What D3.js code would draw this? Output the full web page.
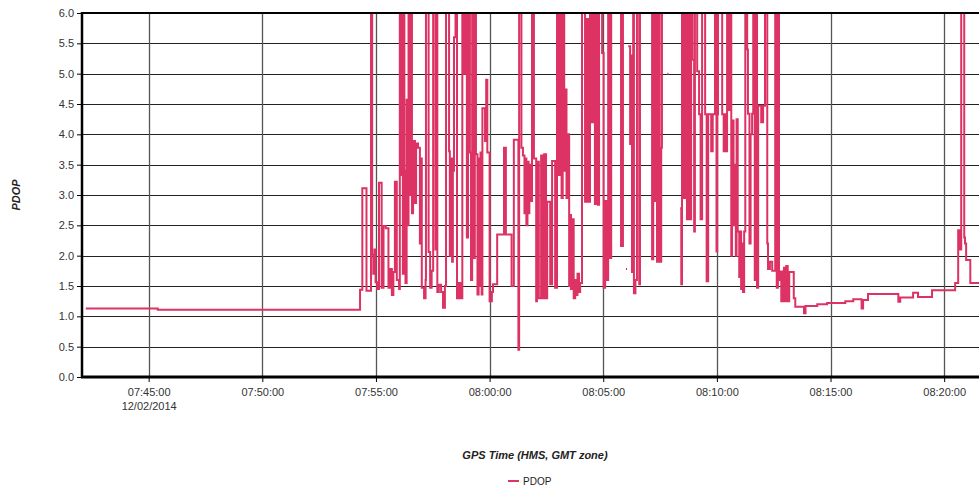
<!DOCTYPE html>
<html><head><meta charset="utf-8">
<script src="https://cdn.jsdelivr.net/npm/d3@7"></script>
<style>body{margin:0;background:#fff;} svg{display:block;font-family:Arial,"Liberation Sans",sans-serif;}</style>
</head><body><svg id="chart" width="979" height="488"></svg>
<script>
// ---- data (step series; values above 6 are clipped at the top of the plot) ----
const times = [
"07:42:14","07:45:24","07:54:18","07:54:24","07:54:35","07:54:47","07:54:50","07:54:53","07:54:56","07:54:59",
"07:55:03","07:55:08","07:55:15","07:55:20","07:55:26","07:55:33","07:55:37","07:55:42","07:55:46","07:55:50",
"07:55:55","07:56:01","07:56:03","07:56:07","07:56:09","07:56:11","07:56:13","07:56:15","07:56:18","07:56:21",
"07:56:23","07:56:26","07:56:30","07:56:31","07:56:35","07:56:38","07:56:43","07:56:46","07:56:51","07:56:56",
"07:56:59","07:57:01","07:57:07","07:57:11","07:57:12","07:57:19","07:57:23","07:57:27","07:57:31","07:57:37",
"07:57:38","07:57:42","07:57:46","07:57:52","07:57:57","07:58:02","07:58:05","07:58:13","07:58:15","07:58:18",
"07:58:21","07:58:23","07:58:26","07:58:30","07:58:34","07:58:39","07:58:44","07:58:48","07:58:52","07:58:55",
"07:59:00","07:59:03","07:59:08","07:59:11","07:59:14","07:59:19","07:59:21","07:59:24","07:59:28","07:59:31",
"07:59:33","07:59:36","07:59:39","07:59:41","07:59:48","07:59:51","07:59:54","08:00:00","08:00:06","08:00:09",
"08:00:20","08:00:38","08:00:43","08:00:58","08:01:04","08:01:16","08:01:18","08:01:24","08:01:28","08:01:32",
"08:01:35","08:01:37","08:01:40","08:01:43","08:01:45","08:01:49","08:01:52","08:01:57","08:02:03","08:02:05",
"08:02:10","08:02:16","08:02:21","08:02:24","08:02:29","08:02:32","08:02:40","08:02:45","08:02:53","08:02:58",
"08:03:03","08:03:06","08:03:10","08:03:13","08:03:17","08:03:19","08:03:23","08:03:26","08:03:30","08:03:32",
"08:03:35","08:03:38","08:03:42","08:03:46","08:03:48","08:03:52","08:03:56","08:03:59","08:04:04","08:04:12",
"08:04:16","08:04:20","08:04:25","08:04:29","08:04:33","08:04:38","08:04:41","08:04:46","08:04:49","08:04:57",
"08:05:01","08:05:05","08:05:09","08:05:13","08:05:18","08:05:21","08:05:47","08:05:52","08:05:59","08:06:00",
"08:06:03","08:06:04","08:06:06","08:06:11","08:06:12","08:06:16","08:06:19","08:06:21","08:06:25","08:06:29",
"08:06:35","08:06:37","08:07:09","08:07:12","08:07:16","08:07:18","08:07:22","08:07:25","08:07:29","08:07:33",
"08:07:35","08:07:47","08:07:49","08:07:52","08:07:53","08:08:23","08:08:26","08:08:28","08:08:33","08:08:36",
"08:08:41","08:08:44","08:08:49","08:08:52","08:08:56","08:09:00","08:09:02","08:09:08","08:09:13","08:09:17",
"08:09:21","08:09:29","08:09:33","08:09:37","08:09:45","08:09:49","08:09:55","08:09:59","08:10:01","08:10:03",
"08:10:14","08:10:18","08:10:22","08:10:26","08:10:27","08:10:32","08:10:35","08:10:38","08:10:40","08:10:44",
"08:10:47","08:10:50","08:10:52","08:10:55","08:10:59","08:11:01","08:11:04","08:11:07","08:11:09","08:11:12",
"08:11:15","08:11:20","08:11:22","08:11:26","08:11:29","08:11:33","08:11:36","08:11:40","08:11:42","08:11:46",
"08:11:49","08:11:57","08:12:02","08:12:07","08:12:13","08:12:15","08:12:20","08:12:26","08:12:34","08:12:38",
"08:12:41","08:12:44","08:12:47","08:12:50","08:12:52","08:12:55","08:12:57","08:13:00","08:13:03","08:13:07",
"08:13:11","08:13:23","08:13:27","08:13:50","08:13:54","08:14:25","08:14:51","08:15:39","08:16:00","08:16:22",
"08:16:26","08:16:39","08:17:59","08:18:04","08:18:38","08:18:51","08:19:28","08:20:29","08:20:37","08:20:41",
"08:20:45","08:20:53","08:20:55","08:20:58","08:21:09","08:21:59"
];
const pdop = [
1.13,1.11,1.44,3.11,1.42,9,2.02,1.7,2.1,1.56,
1.45,3.2,1.47,2.49,2.45,1.47,1.78,1.35,1.73,3.22,
1.6,1.45,9,3.33,9,1.7,9,3.4,1.55,4.57,
2.5,9,3.0,9,2.7,3.89,2.87,3.85,3.78,2.2,
3.6,1.47,1.3,1.6,9,2.06,1.47,1.75,9,2.1,
9,1.4,1.52,1.4,1.14,1.5,9,3.72,2.0,3.6,
1.9,3.4,5.6,9,1.3,1.55,1.3,9,5.0,9,
2.3,9,3.7,1.6,9,1.96,9,3.67,1.36,3.6,
1.5,3.7,1.36,4.43,3.89,4.9,3.7,1.25,1.4,1.53,
2.35,3.78,2.35,1.5,3.91,0.45,9,3.78,3.65,2.7,
3.6,2.5,3.55,2.7,3.5,2.9,9,3.6,1.25,3.55,
1.3,3.65,1.3,3.67,1.3,2.89,1.53,3.56,1.47,9,
3.33,9,2.95,9,3.4,4.74,2.95,4.0,1.5,2.67,
1.45,2.6,1.3,1.6,1.35,1.7,1.4,1.55,9,2.89,
5.9,2.89,9,4.2,9,2.85,9,2.84,9,5.34,
1.47,2.9,1.6,9,1.96,9,2.16,9,null,1.78,
1.78,null,5.45,3.84,5.3,1.73,9,1.38,1.6,9,
1.53,9,1.94,9,2.9,9,1.9,9,1.9,3.78,
9,null,5.0,5.0,null,2.78,1.53,9,2.95,9,
2.6,9,2.6,9,5.23,2.4,9,5.04,4.33,2.6,
9,4.33,1.58,4.33,3.72,4.33,9,2.07,4.33,9,
4.33,3.72,4.33,3.72,9,4.4,9,2.0,4.23,2.5,
3.5,2.0,4.25,2.4,1.65,2.4,1.45,2.2,1.4,2.4,
9,5.4,4.34,2.2,4.0,4.34,9,1.6,9,1.47,
4.47,4.2,4.47,9,2.2,1.78,1.9,1.75,9,1.47,
9,1.6,1.74,1.25,1.74,1.25,1.8,1.25,1.83,1.25,
1.73,1.3,1.16,1.05,1.17,1.2,1.22,1.25,1.28,1.13,
1.27,1.37,1.24,1.31,1.39,1.32,1.43,1.55,2.42,2.1,
9,2.3,2.2,1.93,1.55,1.56
];
const yTicks = [0,0.5,1,1.5,2,2.5,3,3.5,4,4.5,5,5.5,6];
const xTickTimes = ["07:45:00","07:50:00","07:55:00","08:00:00","08:05:00","08:10:00","08:15:00","08:20:00"];
const firstTickDate = "12/02/2014";
const xDomain = ["07:42:04","08:22:01"];
const yDomain = [0,6];
const seriesName = "PDOP";
const xTitle = "GPS Time (HMS, GMT zone)";
const yTitle = "PDOP";
const lineColor = "#dc3264";

// ---- drawing ----
const parse = d3.timeParse("%H:%M:%S");
const data = times.map((t,i)=>({t:parse(t), v:pdop[i]}));
const L=82, T=13, R=990, B=377;
const svg = d3.select("#chart");
const x = d3.scaleTime().domain(xDomain.map(parse)).range([L,R]);
const y = d3.scaleLinear().domain(yDomain).range([B,T]);

// horizontal grid
svg.append("g").selectAll("line").data(yTicks).join("line")
  .attr("x1",L).attr("x2",R).attr("y1",d=>Math.round(y(d))+0.5).attr("y2",d=>Math.round(y(d))+0.5)
  .attr("stroke","#222").attr("stroke-width",1);
// vertical grid
svg.append("g").selectAll("line").data(xTickTimes).join("line")
  .attr("x1",d=>Math.round(x(parse(d)))+0.5).attr("x2",d=>Math.round(x(parse(d)))+0.5)
  .attr("y1",T).attr("y2",B).attr("stroke","#555").attr("stroke-width",1.3);

// clip
svg.append("clipPath").attr("id","plotclip").append("rect")
  .attr("x",L).attr("y",T).attr("width",R-L).attr("height",B-T);

const line = d3.line().defined(d=>d.v!=null).x(d=>x(d.t)).y(d=>y(d.v)).curve(d3.curveStepAfter);
svg.append("path").datum(data).attr("clip-path","url(#plotclip)")
  .attr("d",line).attr("fill","none").attr("stroke",lineColor).attr("stroke-width",2)
  .attr("stroke-linejoin","miter");

// top border
svg.append("line").attr("x1",L).attr("x2",R).attr("y1",T).attr("y2",T).attr("stroke","#000").attr("stroke-width",2);

// y axis
const yAxis = svg.append("g").attr("transform",`translate(${L},0)`)
  .call(d3.axisLeft(y).tickValues(yTicks).tickFormat(d3.format(".1f")).tickSize(5).tickPadding(3));
yAxis.select(".domain").remove();
yAxis.selectAll(".tick line").attr("stroke","#000");
yAxis.selectAll(".tick text").attr("fill","#333").style("font-size","11px").style("font-family","Arial,'Liberation Sans',sans-serif");
svg.append("line").attr("x1",L).attr("x2",L).attr("y1",T-1).attr("y2",B+1).attr("stroke","#000").attr("stroke-width",2.5);

// x axis
const xAxis = svg.append("g").attr("transform",`translate(0,${B})`)
  .call(d3.axisBottom(x).tickValues(xTickTimes.map(parse)).tickFormat(d3.timeFormat("%H:%M:%S")).tickSize(5).tickPadding(6));
xAxis.select(".domain").remove();
xAxis.selectAll(".tick line").attr("stroke","#000");
xAxis.selectAll(".tick text").attr("fill","#333").style("font-size","11px").style("font-family","Arial,'Liberation Sans',sans-serif");
xAxis.select(".tick text").each(function(){
  d3.select(this).append("tspan").attr("x",0).attr("dy","1.25em").text(firstTickDate);
});
svg.append("line").attr("x1",L-1).attr("x2",R).attr("y1",B).attr("y2",B).attr("stroke","#000").attr("stroke-width",3);

// titles
svg.append("text").attr("transform",`translate(20,${(T+B)/2}) rotate(-90)`)
  .attr("text-anchor","middle").style("font-size","11px").style("font-weight","bold").style("font-style","italic")
  .attr("fill","#222").text(yTitle);
svg.append("text").attr("x",535).attr("y",459).attr("text-anchor","middle")
  .style("font-size","11px").style("font-weight","bold").style("font-style","italic").attr("fill","#222").text(xTitle);

// legend
svg.append("line").attr("x1",508).attr("x2",519).attr("y1",481).attr("y2",481).attr("stroke",lineColor).attr("stroke-width",2);
svg.append("text").attr("x",523).attr("y",485).style("font-size",10).attr("fill","#222").text(seriesName);
</script></body></html>
